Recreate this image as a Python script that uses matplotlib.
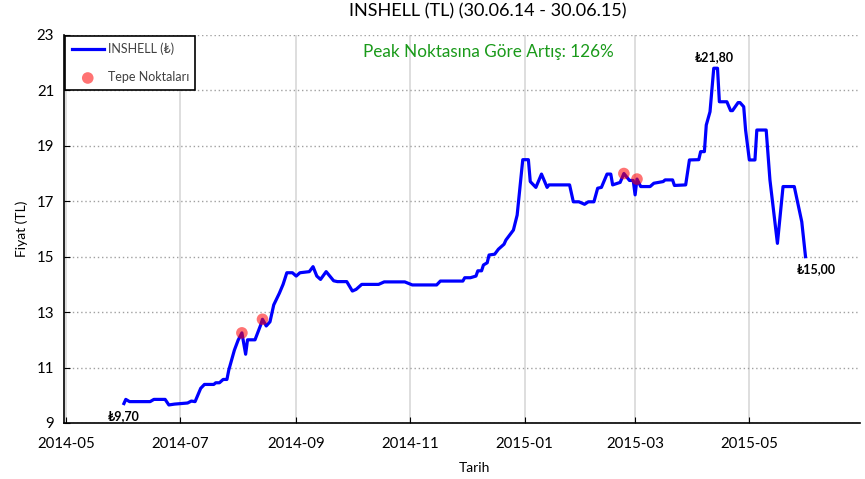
import pandas as pd
import matplotlib
matplotlib.use('Agg')
import matplotlib.pyplot as plt
import matplotlib.dates as mdates

plt.rcParams['font.family'] = ['Lato', 'DejaVu Sans']

# Daily-ish closing prices
dates = [
    '2014-06-01', '2014-06-02', '2014-06-04', '2014-06-15', '2014-06-17', '2014-06-23',
    '2014-06-25', '2014-06-28', '2014-07-05', '2014-07-07', '2014-07-09', '2014-07-12',
    '2014-07-14', '2014-07-19', '2014-07-20', '2014-07-22', '2014-07-24', '2014-07-26',
    '2014-07-27', '2014-07-30', '2014-08-01', '2014-08-03', '2014-08-05', '2014-08-06',
    '2014-08-10', '2014-08-13', '2014-08-14', '2014-08-16', '2014-08-18', '2014-08-20',
    '2014-08-23', '2014-08-25', '2014-08-27', '2014-08-30', '2014-09-01', '2014-09-03',
    '2014-09-08', '2014-09-10', '2014-09-12', '2014-09-14', '2014-09-17', '2014-09-21',
    '2014-09-23', '2014-09-28', '2014-10-01', '2014-10-03', '2014-10-06', '2014-10-15',
    '2014-10-18', '2014-10-29', '2014-11-02', '2014-11-15', '2014-11-17', '2014-11-29',
    '2014-11-30', '2014-12-03', '2014-12-06', '2014-12-07', '2014-12-09', '2014-12-10',
    '2014-12-12', '2014-12-13', '2014-12-16', '2014-12-18', '2014-12-21', '2014-12-22',
    '2014-12-24', '2014-12-26', '2014-12-28', '2014-12-29', '2014-12-31', '2015-01-03',
    '2015-01-04', '2015-01-07', '2015-01-10', '2015-01-13', '2015-01-14', '2015-01-25',
    '2015-01-27', '2015-01-30', '2015-02-02', '2015-02-04', '2015-02-07', '2015-02-09',
    '2015-02-11', '2015-02-14', '2015-02-16', '2015-02-17', '2015-02-21', '2015-02-23',
    '2015-02-26', '2015-02-28', '2015-03-01', '2015-03-02', '2015-03-04', '2015-03-09',
    '2015-03-11', '2015-03-16', '2015-03-17', '2015-03-21', '2015-03-22', '2015-03-28',
    '2015-03-30', '2015-04-04', '2015-04-05', '2015-04-07', '2015-04-08', '2015-04-10',
    '2015-04-12', '2015-04-14', '2015-04-15', '2015-04-19', '2015-04-21', '2015-04-22',
    '2015-04-25', '2015-04-26', '2015-04-28', '2015-04-29', '2015-05-01', '2015-05-04',
    '2015-05-05', '2015-05-10', '2015-05-12', '2015-05-16', '2015-05-19', '2015-05-25',
    '2015-05-29', '2015-05-31',
]
prices = [
    9.70, 9.85, 9.77, 9.77, 9.85, 9.85,
    9.65, 9.68, 9.72, 9.79, 9.77, 10.25,
    10.39, 10.39, 10.45, 10.45, 10.57, 10.57,
    10.91, 11.63, 11.99, 12.25, 11.48, 12.00,
    12.00, 12.53, 12.74, 12.50, 12.65, 13.26,
    13.68, 14.00, 14.42, 14.42, 14.30, 14.42,
    14.46, 14.64, 14.30, 14.18, 14.46, 14.13,
    14.10, 14.10, 13.76, 13.82, 14.00, 14.00,
    14.09, 14.09, 13.98, 13.98, 14.12, 14.12,
    14.24, 14.24, 14.30, 14.49, 14.49, 14.70,
    14.78, 15.06, 15.09, 15.27, 15.45, 15.60,
    15.78, 15.96, 16.50, 17.16, 18.50, 18.50,
    17.71, 17.50, 17.98, 17.50, 17.59, 17.59,
    16.98, 16.98, 16.89, 16.98, 16.98, 17.47,
    17.50, 17.98, 17.98, 17.59, 17.68, 18.00,
    17.75, 17.75, 17.23, 17.80, 17.53, 17.53,
    17.65, 17.71, 17.77, 17.77, 17.57, 17.59,
    18.49, 18.50, 18.79, 18.79, 19.75, 20.23,
    21.80, 21.80, 20.59, 20.59, 20.27, 20.27,
    20.56, 20.56, 20.41, 19.57, 18.49, 18.49,
    19.57, 19.57, 17.77, 15.48, 17.53, 17.53,
    16.26, 15.00,
]

peak_dates = ['2014-08-03', '2014-08-14', '2015-02-23', '2015-03-02']
peak_prices = [12.25, 12.74, 18.00, 17.80]

dates = pd.to_datetime(dates)
peak_dates = pd.to_datetime(peak_dates)

fig = plt.figure(figsize=(8.65, 4.79), dpi=100)
ax = fig.add_axes([0.074, 0.117, 0.920, 0.810])

ax.plot(dates, prices, color='blue', linewidth=2.3, label='INSHELL (₺)', zorder=3)
ax.scatter(peak_dates, peak_prices, color='red', alpha=0.55, s=70, label='Tepe Noktaları',
           edgecolors='none', zorder=4)

# Start, max and end labels
ax.annotate('₺9,70', (dates[0], prices[0]), xytext=(0, -12), textcoords='offset points',
            ha='center', fontsize=9, fontweight='bold')
ax.annotate('₺21,80', (dates[108], prices[108]), xytext=(0, 5), textcoords='offset points',
            ha='center', fontsize=9, fontweight='bold')
ax.annotate('₺15,00', (dates[-1], prices[-1]), xytext=(8, -12), textcoords='offset points',
            ha='center', fontsize=9, fontweight='bold')

ax.text(0.533, 0.955, 'Peak Noktasına Göre Artış: 126%', transform=ax.transAxes,
        ha='center', va='center', color='#1a9a1a', fontsize=12.3)

ax.set_title('INSHELL (TL) (30.06.14 - 30.06.15)', fontsize=13, x=0.533, pad=13)
ax.set_xlabel('Tarih', fontsize=10, x=0.516, labelpad=8)
ax.set_ylabel('Fiyat (TL)', fontsize=10, labelpad=6)

ax.set_xlim(pd.Timestamp('2014-04-30'), pd.Timestamp('2015-06-29'))
ax.set_ylim(9, 23)
ax.set_yticks(range(9, 24, 2))
ax.xaxis.set_major_locator(mdates.MonthLocator(bymonth=[1, 3, 5, 7, 9, 11]))
ax.xaxis.set_major_formatter(mdates.DateFormatter('%Y-%m'))
ax.tick_params(axis='both', labelsize=10.8, direction='in', length=4)
ax.tick_params(axis='x', pad=10)
ax.tick_params(axis='y', pad=7)

ax.grid(axis='x', color='#d8d8d8', linewidth=1.2, linestyle='-')
ax.grid(axis='y', color='#a0a0a0', linewidth=1, linestyle=(0, (1, 2)))
ax.set_axisbelow(True)
for side in ['top', 'right']:
    ax.spines[side].set_visible(False)
ax.spines['left'].set_linewidth(1.2)
ax.spines['bottom'].set_linewidth(1.2)

leg = ax.legend(loc='upper left', fontsize=9, fancybox=False, framealpha=1,
                borderaxespad=0.1, handlelength=2.6, handletextpad=0.3,
                labelspacing=1.3, borderpad=0.5)
leg.get_frame().set_edgecolor('black')
leg.get_frame().set_linewidth(1.2)
for t in leg.get_texts():
    t.set_color('#404040')

fig.savefig('out.png', dpi=100)
